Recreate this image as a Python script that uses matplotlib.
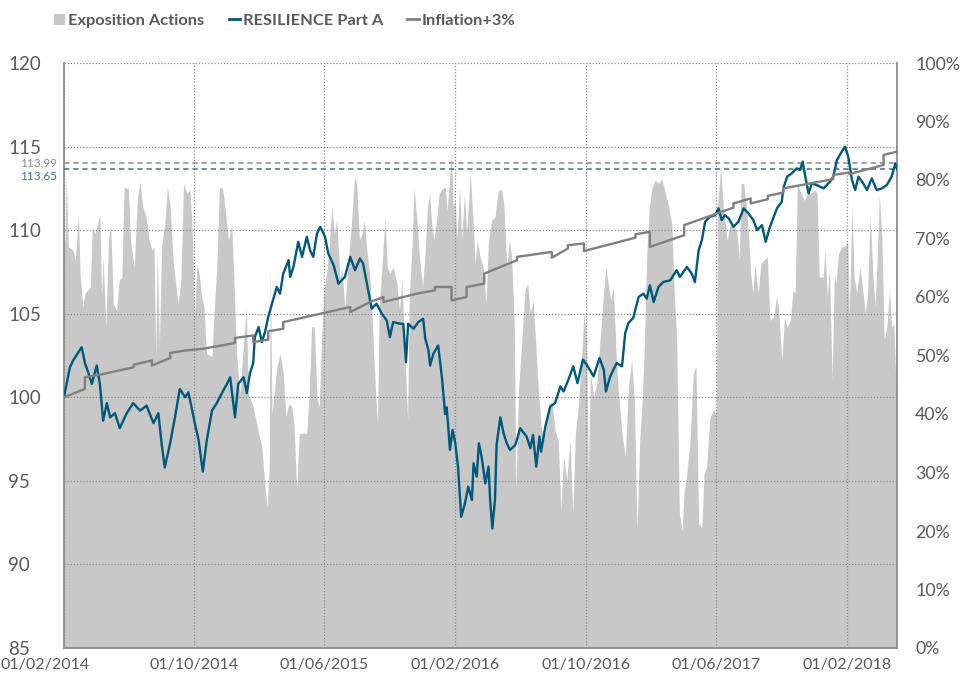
import numpy as np
import pandas as pd
import matplotlib
matplotlib.use("Agg")
import matplotlib.pyplot as plt
import matplotlib.dates as mdates
from matplotlib.lines import Line2D
from matplotlib.patches import Patch
from matplotlib.ticker import PercentFormatter
from matplotlib.transforms import ScaledTranslation, blended_transform_factory

plt.rcParams['font.family'] = ['Lato', 'DejaVu Sans']

START = pd.Timestamp('2014-02-01')

# RESILIENCE Part A (base 100), days counted from 01/02/2014
fund_days = [0, 11, 17, 33, 39, 45, 52, 61, 67, 73,
             80, 86, 95, 104, 117, 129, 142, 154, 167, 176,
             182, 188, 198, 207, 216, 226, 232, 238, 244, 251,
             259, 266, 276, 285, 297, 304, 310, 319, 325, 335,
             341, 347, 353, 356, 363, 369, 375, 381, 388, 397,
             403, 409, 419, 422, 428, 437, 444, 453, 459, 465,
             472, 478, 487, 493, 503, 512, 524, 534, 543, 552,
             558, 565, 571, 574, 583, 593, 602, 608, 614, 627,
             633, 638, 642, 652, 661, 670, 674, 680, 683, 689,
             698, 705, 711, 714, 720, 725, 730, 735, 741, 748,
             754, 761, 764, 770, 774, 779, 786, 792, 795, 799,
             804, 807, 814, 820, 826, 832, 842, 851, 863, 870,
             875, 881, 887, 890, 898, 907, 916, 926, 932, 941,
             950, 958, 968, 975, 988, 999, 1007, 1011, 1019, 1031,
             1041, 1047, 1053, 1062, 1072, 1081, 1087, 1093, 1100, 1109,
             1118, 1131, 1143, 1149, 1162, 1171, 1177, 1184, 1190, 1196,
             1205, 1215, 1221, 1227, 1233, 1240, 1249, 1258, 1268, 1277,
             1286, 1293, 1302, 1309, 1317, 1324, 1330, 1339, 1342, 1349,
             1358, 1367, 1373, 1378, 1383, 1389, 1395, 1404, 1417, 1429,
             1435, 1442, 1451, 1457, 1463, 1470, 1476, 1482, 1491, 1498,
             1507, 1516, 1526, 1535, 1544, 1551, 1554]
fund_vals = [100.0, 101.8, 102.2, 103.0, 102.05, 101.5, 100.8, 101.9, 100.8, 98.6,
             99.65, 98.8, 99.05, 98.15, 99.05, 99.65, 99.2, 99.5, 98.45, 99.05,
             97.25, 95.8, 97.25, 98.8, 100.5, 100.0, 100.3, 99.4, 98.45, 97.45,
             95.55, 97.35, 99.2, 99.65, 100.4, 100.8, 101.2, 98.8, 100.8, 101.2,
             100.25, 101.45, 102.05, 103.6, 104.2, 103.3, 103.9, 104.8, 105.6, 106.6,
             106.2, 107.4, 108.2, 107.2, 107.8, 109.3, 108.4, 109.6, 108.8, 108.4,
             109.8, 110.2, 109.6, 108.6, 107.9, 106.8, 107.2, 108.4, 107.6, 108.3,
             108.0, 106.8, 105.8, 105.3, 105.6, 105.0, 104.6, 103.6, 104.5, 104.4,
             104.4, 102.1, 104.4, 104.1, 104.5, 104.7, 103.5, 102.8, 101.9, 102.6,
             103.1, 101.2, 99.0, 99.4, 96.85, 98.05, 97.25, 95.85, 92.85, 93.65,
             94.65, 93.85, 96.05, 95.25, 97.25, 96.45, 94.85, 95.85, 93.85, 92.15,
             93.85, 97.15, 98.8, 97.85, 97.25, 96.85, 97.15, 98.15, 97.65, 96.95,
             97.75, 95.85, 97.65, 96.75, 98.25, 99.45, 99.65, 100.65, 100.35, 101.05,
             101.85, 100.85, 102.25, 101.95, 101.25, 102.35, 101.65, 100.35, 101.25, 102.05,
             101.85, 103.85, 104.45, 104.75, 106.0, 106.2, 105.9, 106.7, 105.7, 106.6,
             106.9, 107.0, 107.6, 107.2, 107.8, 107.4, 106.9, 108.8, 109.4, 110.5,
             110.8, 110.9, 111.3, 110.6, 110.9, 110.7, 110.2, 110.5, 111.3, 111.0,
             110.6, 110.0, 110.3, 109.3, 110.2, 110.8, 111.3, 111.7, 112.5, 113.2,
             113.4, 113.7, 113.6, 114.1, 113.2, 112.2, 112.8, 112.7, 112.5, 112.9,
             113.2, 114.2, 114.7, 115.0, 114.4, 113.0, 112.4, 113.2, 112.8, 112.4,
             113.1, 112.4, 112.5, 112.7, 113.2, 114.0, 113.65]

# Inflation+3% (step-wise)
infl_days = [0, 39, 39, 67, 130, 130, 164, 164, 198, 198,
             226, 259, 319, 319, 353, 353, 381, 381, 409, 409,
             534, 534, 571, 596, 596, 658, 692, 692, 723, 723,
             751, 751, 776, 784, 784, 845, 845, 910, 910, 940,
             940, 970, 970, 1066, 1066, 1093, 1093, 1157, 1157, 1249,
             1249, 1281, 1281, 1313, 1313, 1342, 1342, 1435, 1435, 1465,
             1465, 1529, 1529, 1554]
infl_vals = [100.0, 100.5, 101.2, 101.35, 101.8, 101.95, 102.2, 101.9, 102.35, 102.65,
             102.8, 102.9, 103.25, 103.55, 103.7, 103.3, 103.45, 103.95, 104.1, 104.5,
             105.4, 105.1, 105.7, 106.0, 105.7, 106.2, 106.4, 106.6, 106.6, 105.8,
             106.0, 106.6, 106.75, 106.8, 107.4, 108.2, 108.4, 108.7, 108.35, 108.9,
             109.1, 109.2, 108.75, 109.55, 109.75, 109.9, 109.0, 109.7, 110.3, 111.35,
             111.6, 111.9, 111.6, 111.85, 112.05, 112.25, 112.5, 113.05, 113.3, 113.45,
             113.35, 113.9, 114.5, 114.7]

# Exposition Actions (%)
expo_days = [0, 2, 4, 6, 8, 17, 21, 27, 30, 35,
             39, 49, 53, 58, 64, 67, 70, 73, 78, 83,
             87, 92, 98, 103, 108, 112, 120, 124, 131, 137,
             142, 147, 153, 159, 164, 168, 171, 174, 178, 182,
             188, 193, 198, 204, 209, 213, 218, 223, 229, 235,
             240, 243, 248, 252, 257, 261, 266, 276, 280, 285,
             290, 296, 300, 307, 313, 317, 322, 328, 340, 344,
             353, 363, 369, 375, 379, 383, 385, 388, 397, 403,
             409, 414, 419, 425, 429, 434, 439, 453, 458, 462,
             467, 472, 476, 481, 485, 490, 495, 500, 504, 509,
             515, 518, 524, 531, 537, 542, 546, 551, 556, 560,
             565, 570, 574, 578, 582, 585, 588, 593, 599, 603,
             608, 614, 621, 626, 630, 636, 641, 644, 649, 653,
             658, 663, 669, 674, 678, 682, 686, 690, 695, 700,
             705, 711, 715, 720, 723, 726, 730, 733, 738, 742,
             747, 751, 758, 763, 767, 771, 776, 782, 787, 792,
             798, 804, 810, 817, 821, 826, 831, 835, 840, 843,
             848, 854, 860, 865, 870, 875, 879, 885, 891, 898,
             904, 910, 916, 922, 927, 932, 938, 944, 949, 954,
             960, 966, 970, 975, 978, 982, 988, 994, 1000, 1006,
             1011, 1016, 1020, 1025, 1030, 1034, 1041, 1047, 1053, 1059,
             1064, 1069, 1074, 1078, 1082, 1087, 1092, 1097, 1103, 1109,
             1115, 1122, 1128, 1134, 1138, 1143, 1148, 1153, 1157, 1162,
             1168, 1174, 1179, 1184, 1190, 1194, 1199, 1205, 1212, 1217,
             1219, 1225, 1230, 1237, 1243, 1249, 1255, 1260, 1263, 1268,
             1273, 1277, 1281, 1285, 1289, 1295, 1300, 1306, 1312, 1317,
             1324, 1329, 1333, 1339, 1344, 1349, 1355, 1360, 1364, 1368,
             1375, 1381, 1387, 1393, 1400, 1405, 1409, 1416, 1420, 1424,
             1428, 1433, 1437, 1440, 1445, 1451, 1457, 1462, 1465, 1470,
             1474, 1479, 1485, 1490, 1495, 1499, 1504, 1509, 1513, 1518,
             1521, 1526, 1530, 1535, 1540, 1544, 1548, 1552, 1554]
expo_pct = [68.6, 70, 81, 75, 68.6, 68, 66.3, 74.3, 64, 58.3,
            60.6, 61.7, 72, 70.8, 73.1, 74, 60, 66.9, 54.9, 69.7,
            72.5, 58.9, 57.7, 62.9, 63.4, 78.8, 78.5, 69.7, 65.1, 77.1,
            79.7, 75.4, 73.7, 69.7, 68, 68.6, 49.8, 68, 51.5, 68.6,
            72.5, 78.8, 75.4, 65.7, 61.7, 58.9, 62.9, 79.4, 77.7, 78.3,
            69.7, 56, 65.7, 64, 60, 58.3, 50.3, 49.8, 57.2, 65.1,
            78.8, 78.5, 75.4, 69.7, 72.5, 62.9, 50.3, 43.5, 58.3, 43.5,
            41.2, 36.7, 34.4, 27.5, 24.1, 31, 65, 40, 48, 50.3,
            47, 39.5, 41.8, 41.2, 38.3, 27, 36.7, 36.7, 44.6, 54.9,
            54.9, 43, 41.2, 53.7, 61.2, 64, 69.1, 75.7, 70.8, 73.1,
            62.9, 65.1, 58.3, 66.9, 73.7, 80.5, 79.4, 69.7, 70.8, 73.1,
            68, 64, 58.3, 49.8, 42.4, 38.3, 58.3, 65.1, 73.7, 65.1,
            64, 65.1, 62.3, 57.7, 62.9, 50.3, 38.9, 60, 68, 78.8,
            73.7, 66.9, 61.7, 68, 75.4, 77.7, 72.5, 69.7, 73.1, 77.7,
            78.5, 78.8, 74.8, 81.1, 85.1, 75.4, 76.5, 69.7, 78.8, 69.7,
            77.7, 70.8, 81.1, 73.1, 65.7, 69.7, 66.9, 65.1, 58.9, 69.7,
            73.1, 73.7, 78.3, 78.3, 75.4, 65.1, 69.7, 66.9, 55.4, 27,
            44, 52.6, 61.2, 62.3, 57.2, 59.4, 53.7, 44, 37.2, 36.7,
            41.2, 42.4, 37.2, 35.5, 23.6, 32.7, 28.7, 35.5, 23, 36.7,
            41.8, 50.3, 57.2, 52.6, 29.8, 47, 43, 45.2, 52.6, 60,
            65.1, 61.7, 59.4, 61.7, 50.3, 44, 36.7, 32.7, 44.6, 49.2,
            42.4, 20.1, 35.5, 41.2, 49.8, 66.9, 75.4, 78.8, 80, 79.4,
            80.3, 77.7, 75.4, 72.5, 61.7, 52.6, 23, 20.1, 27, 29.8,
            35.5, 47, 48.1, 21.2, 20.6, 29.8, 31, 39.5, 40.6, 40,
            75.4, 82.2, 75.4, 69.7, 72.5, 72, 71.4, 66.3, 79.4, 79.4,
            75.4, 70.8, 64, 60.6, 65.7, 60.6, 65.7, 66.3, 66.9, 56,
            56.6, 60, 58.3, 49.2, 56.6, 54.9, 56, 61.2, 60.6, 79.4,
            77.7, 76.5, 77.7, 77.7, 78.3, 77.7, 63.4, 63.4, 68, 60,
            65.1, 45.8, 64, 62.3, 67.4, 68.6, 68.6, 69.7, 56.6, 75.4,
            63.4, 60.6, 65.1, 61.2, 57.2, 60.6, 73.7, 64, 58.3, 68.6,
            77.7, 69.7, 52.6, 54.9, 61.2, 54.9, 55.4, 45.2, 45.2]

tick_dates = ['2014-02-01', '2014-10-01', '2015-06-01', '2016-02-01',
              '2016-10-01', '2017-06-01', '2018-02-01']
last_inflation = 113.99
last_fund = 113.65

GREY_AREA = '#c8c8c8'
TEAL = '#00587a'
GREY_LINE = '#808080'
TEXT = '#595959'


def to_dates(days):
    return START + pd.to_timedelta(days, unit='D')


fig = plt.figure(figsize=(9.64, 6.78), dpi=100)
ax = fig.add_axes([64 / 964, 30 / 678, 833 / 964, 585 / 678])
ax2 = ax.twinx()

# area on the bottom axes (right-hand % scale)
ax.fill_between(to_dates(expo_days), np.array(expo_pct) / 100, color=GREY_AREA, lw=0)
ax.set_ylim(0, 1)
ax.set_yticks(np.arange(0, 1.01, 0.1))
ax.yaxis.set_major_formatter(PercentFormatter(1.0, decimals=0))
ax.yaxis.tick_right()
ax.set_xlim(START, to_dates([1554])[0])
ax.set_xticks(pd.to_datetime(tick_dates))
ax.xaxis.set_major_formatter(mdates.DateFormatter('%d/%m/%Y'))
ax.set_axisbelow(False)
ax.grid(axis='x', ls=(0, (1, 1.5)), color='#8a8a8a', lw=0.9)
ax.tick_params(axis='y', length=0, pad=13, labelsize=12.8, labelcolor=TEXT)
ax.tick_params(axis='x', length=0, pad=7, labelsize=11.5, labelcolor=TEXT)
for side in ['left', 'right', 'bottom']:
    ax.spines[side].set_color('#8c8c8c')
    ax.spines[side].set_linewidth(1.3)
ax.spines['top'].set_visible(False)

# index lines on the twin axes (left-hand scale)
ax2.set_ylim(85, 120)
ax2.set_yticks(np.arange(85, 121, 5))
ax2.yaxis.tick_left()
ax2.grid(axis='y', ls=(0, (1, 1.5)), color='#8a8a8a', lw=0.9)
ax2.tick_params(axis='y', length=0, pad=40, labelsize=13.5, labelcolor=TEXT)
for lab in ax2.get_yticklabels():
    lab.set_horizontalalignment('left')
for s in ax2.spines.values():
    s.set_visible(False)

ax2.axhline(last_inflation, color='#8c8c8c', ls=(0, (3.5, 2.5)), lw=1.1)
ax2.axhline(last_fund, color='#3e6f98', ls=(0, (3.5, 2.5)), lw=1.1)
ax2.plot(to_dates(fund_days), fund_vals, color=TEAL, lw=1.7)
ax2.plot(to_dates(infl_days), infl_vals, color=GREY_LINE, lw=1.7)

trans = blended_transform_factory(ax2.transAxes, ax2.transData)
ax2.text(-0.008, last_inflation + 0.02, '113,99', transform=trans, ha='right', va='center',
         fontsize=8.5, color='#8c8c8c')
ax2.text(-0.008, last_fund - 0.38, '113,65', transform=trans, ha='right', va='center',
         fontsize=8.5, color='#3e6f98')

# first date label sits shifted left in the original
first = ax.get_xticklabels()[0]
first.set_transform(first.get_transform() + ScaledTranslation(-19 / 100, 0, fig.dpi_scale_trans))

handles = [Patch(facecolor=GREY_AREA, edgecolor='none'),
           Line2D([], [], color=TEAL, lw=2),
           Line2D([], [], color=GREY_LINE, lw=2)]
labels = ['Exposition Actions', 'RESILIENCE Part A', 'Inflation+3%']
fig.legend(handles, labels, loc='center left', bbox_to_anchor=(54 / 964, 1 - 21 / 678),
           ncol=3, frameon=False, handlelength=0.7, handleheight=0.7, handletextpad=0.15,
           columnspacing=1.5, borderpad=0, borderaxespad=0,
           prop={'weight': 'bold', 'size': 11.8}, labelcolor=TEXT)

fig.savefig('out.png', dpi=100)
